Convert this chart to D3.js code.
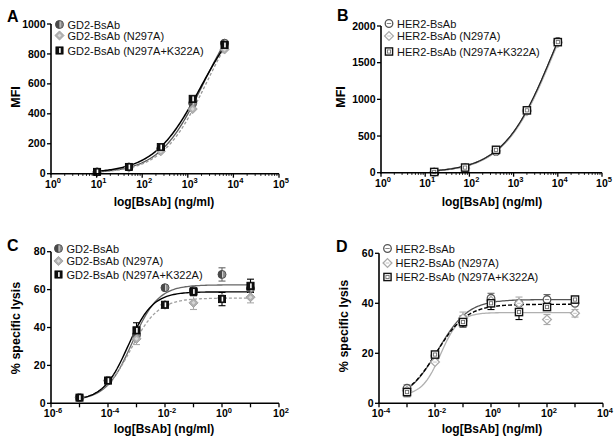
<!DOCTYPE html>
<html><head><meta charset="utf-8">
<script src="https://cdn.jsdelivr.net/npm/d3@7"></script>
<style>body{margin:0;background:#fff}svg{display:block;font-family:"Liberation Sans",Arial,sans-serif}</style>
</head><body>
<svg id="c" width="615" height="445"></svg>
<script>
// ---------- DATA ----------
const seriesGD2 = ["GD2-BsAb", "GD2-BsAb (N297A)", "GD2-BsAb (N297A+K322A)"];
const seriesHER2 = ["HER2-BsAb", "HER2-BsAb (N297A)", "HER2-BsAb (N297A+K322A)"];

// Panel A: binding MFI
const concA = [10.24, 51.2, 256, 1280, 6400];
const mfiA_GD2 = [12, 45, 168, 470, 872];
const mfiA_N297A = [10, 40, 150, 432, 830];
const mfiA_K322A = [12, 45, 178, 500, 860];
const fitA_GD2 = [3, 1200, 3.34, 0.9];     // bottom, top, logEC50, hill
const fitA_N297A = [3, 1200, 3.40, 0.9];
const fitA_K322A = [3, 1150, 3.28, 0.85];

// Panel B: binding MFI
const concB = [16, 80, 400, 2000, 10000];
const mfiB_HER2 = [8, 66, 288, 848, 1790];
const mfiB_N297A = [6, 62, 298, 840, 1770];
const mfiB_K322A = [10, 70, 312, 850, 1780];
const fitB_HER2 = [0, 3200, 3.874, 0.78];
const fitB_N297A = [0, 3200, 3.885, 0.78];
const fitB_K322A = [0, 3200, 3.868, 0.78];

// Panel C: % specific lysis
const concC = [1e-5, 1e-4, 1e-3, 1e-2, 1e-1, 1, 10];
const lysisC_GD2 = [3, 12, 36, 61, 59.5, 68, 60.5];
const lysisC_N297A = [3, 12, 34, 52, 53, 55.5, 56];
const lysisC_K322A = [3, 12, 38.5, 52, 59, 55, 62];
const errC_GD2 = [0.5, 1, 2, 1, 1, 3.5, 2];
const errC_N297A = [0.5, 1, 3, 1, 3.5, 1.5, 3];
const errC_K322A = [0.5, 1, 4, 1, 2, 3.5, 3.5];
const fitC_GD2 = [1.5, 62.5, -3.15, 0.95];
const fitC_N297A = [1.5, 55.5, -3.2, 0.9];
const fitC_K322A = [1.5, 58.8, -3.3, 1.0];

// Panel D: % specific lysis
const concD = [1e-3, 1e-2, 1e-1, 1, 10, 100, 1000];
const lysisD_HER2 = [6, 19, 33, 42, 40, 41.5, 40];
const lysisD_N297A = [5, 16.5, 34, 41, 40, 33.5, 36];
const lysisD_K322A = [4.5, 19.5, 32.5, 40, 36.5, 38.5, 41.5];
const errD_HER2 = [1, 1, 2, 2, 1, 2, 1];
const errD_N297A = [2.5, 1, 2.5, 2, 2.5, 2, 1.5];
const errD_K322A = [1.5, 1, 2, 2.5, 3, 1, 1];
const fitD_HER2 = [1, 41.5, -1.9, 0.8];
const fitD_N297A = [3, 36.3, -1.8, 1.3];
const fitD_K322A = [1, 39.6, -1.95, 0.8];

const yTicksA = [0, 200, 400, 600, 800, 1000];
const yTicksB = [0, 500, 1000, 1500, 2000];
const yTicksC = [0, 20, 40, 60, 80];
const yTicksD = [0, 20, 40, 60];
const xExpAB = [0, 1, 2, 3, 4, 5];
const xExpC = [-6, -4, -2, 0, 2];
const xExpD = [-4, -2, 0, 2, 4];

// ---------- DRAW ----------
const svg = d3.select("#c");
svg.append("rect").attr("width", 615).attr("height", 445).attr("fill", "#fff");

function marker(g, type, x, y) {
  const m = g.append("g").attr("transform", `translate(${x},${y})`);
  if (type === "circHalf") {
    m.append("circle").attr("r", 4).attr("fill", "#8a8a8a").attr("stroke", "#555").attr("stroke-width", 1);
    m.append("path").attr("d", "M0,-4 A4,4 0 0 0 0,4 Z").attr("fill", "#4a4a4a");
    m.append("line").attr("x1", 0.6).attr("x2", 0.6).attr("y1", -3).attr("y2", 3).attr("stroke", "#ddd").attr("stroke-width", 0.9);
  } else if (type === "diamFill") {
    m.append("path").attr("d", "M0,-4.6L4.6,0L0,4.6L-4.6,0Z").attr("fill", "#b0b0b0").attr("stroke", "#999").attr("stroke-width", 0.8);
    m.append("path").attr("d", "M0,-2L2,0L0,2L-2,0Z").attr("fill", "#d8d8d8");
  } else if (type === "sqHalf") {
    m.append("rect").attr("x", -3.6).attr("y", -3.6).attr("width", 7.2).attr("height", 7.2).attr("fill", "#111").attr("stroke", "#000").attr("stroke-width", 0.8);
    m.append("rect").attr("x", -0.4).attr("y", -2.4).attr("width", 1.6).attr("height", 4.8).attr("fill", "#fff");
  } else if (type === "circOpen") {
    m.append("circle").attr("r", 3.8).attr("fill", "#fff").attr("stroke", "#555").attr("stroke-width", 1.3);
    m.append("line").attr("x1", -2.2).attr("x2", 2.2).attr("stroke", "#777").attr("stroke-width", 0.9);
  } else if (type === "diamOpen") {
    m.append("path").attr("d", "M0,-4.4L4.4,0L0,4.4L-4.4,0Z").attr("fill", "#fff").attr("stroke", "#aaa").attr("stroke-width", 1.3);
    m.append("line").attr("x1", -1.8).attr("x2", 1.8).attr("stroke", "#bbb").attr("stroke-width", 0.9);
  } else if (type === "sqOpen") {
    m.append("rect").attr("x", -3.6).attr("y", -3.6).attr("width", 7.2).attr("height", 7.2).attr("fill", "#fff").attr("stroke", "#111").attr("stroke-width", 1.4);
    m.append("rect").attr("x", -1.6).attr("y", -1.6).attr("width", 3.2).attr("height", 3.2).attr("fill", "none").attr("stroke", "#666").attr("stroke-width", 0.8);
  }
}

function logistic(p, lx) {
  const [b, t, L, h] = p;
  return b + (t - b) / (1 + Math.pow(10, (L - lx) * h));
}

function panel(cfg) {
  const g = svg.append("g");
  const x = d3.scaleLog().domain(cfg.xDom).range(cfg.xRange);
  const y = d3.scaleLinear().domain(cfg.yDom).range(cfg.yRange);
  const [x0, x1] = cfg.xRange, [yb, yt] = cfg.yRange;

  // panel letter
  g.append("text").attr("x", cfg.letter[1]).attr("y", cfg.letter[2]).attr("font-size", 16).attr("font-weight", "bold").text(cfg.letter[0]);

  // curves
  const line = d3.line().x(d => x(Math.pow(10, d[0]))).y(d => y(d[1]));
  cfg.series.forEach(s => {
    const lo = Math.log10(s.conc[0]), hi = Math.log10(s.conc[s.conc.length - 1]);
    const pts = d3.range(0, 101).map(i => { const lx = lo + (hi - lo) * i / 100; return [lx, logistic(s.fit, lx)]; });
    g.append("path").attr("d", line(pts)).attr("fill", "none").attr("stroke", s.color).attr("stroke-width", s.lw || 1.3)
      .attr("stroke-dasharray", s.dash || null);
  });
  // error bars
  cfg.series.forEach(s => {
    if (!s.err) return;
    s.conc.forEach((c, i) => {
      const e = s.err[i]; if (!e || e < 1.2) return;
      const px = x(c);
      g.append("line").attr("x1", px).attr("x2", px).attr("y1", y(s.vals[i] - e)).attr("y2", y(s.vals[i] + e)).attr("stroke", s.ecolor).attr("stroke-width", 1.1);
      [s.vals[i] - e, s.vals[i] + e].forEach(v => g.append("line").attr("x1", px - 3.5).attr("x2", px + 3.5).attr("y1", y(v)).attr("y2", y(v)).attr("stroke", s.ecolor).attr("stroke-width", 1.1));
    });
  });
  // markers
  cfg.series.forEach(s => s.conc.forEach((c, i) => marker(g, s.marker, x(c), y(s.vals[i]))));

  // axes
  const ax = g.append("g").attr("stroke", "#000");
  ax.append("line").attr("x1", x0).attr("x2", x0).attr("y1", yb + 0.7).attr("y2", yt).attr("stroke-width", 1.6);
  ax.append("line").attr("x1", x0 - 0.8).attr("x2", x1).attr("y1", yb).attr("y2", yb).attr("stroke-width", 1.6);
  cfg.yTicks.forEach(v => {
    ax.append("line").attr("x1", x0 - 4).attr("x2", x0).attr("y1", y(v)).attr("y2", y(v)).attr("stroke-width", 1.3);
    g.append("text").attr("x", x0 - 5.5).attr("y", y(v) + 3.6).attr("text-anchor", "end").attr("font-size", 10.5).attr("font-weight", "bold").text(v);
  });
  const [e0, e1] = [Math.round(Math.log10(cfg.xDom[0])), Math.round(Math.log10(cfg.xDom[1]))];
  for (let e = e0; e <= e1; e++) {
    const px = x(Math.pow(10, e));
    ax.append("line").attr("x1", px).attr("x2", px).attr("y1", yb).attr("y2", yb + 4).attr("stroke-width", 1.3);
    if (cfg.minor && e < e1) {
      for (let k = 2; k <= 9; k++) {
        const mx = x(k * Math.pow(10, e));
        ax.append("line").attr("x1", mx).attr("x2", mx).attr("y1", yb).attr("y2", yb + 2.2).attr("stroke-width", 0.9);
      }
    }
  }
  cfg.xLabels.forEach(e => {
    const px = x(Math.pow(10, e));
    const t = g.append("text").attr("x", px + 2).attr("y", yb + 14).attr("text-anchor", "middle").attr("font-size", 10.5).attr("font-weight", "bold");
    t.append("tspan").text("10");
    t.append("tspan").attr("dy", -4.5).attr("font-size", 7.5).text(e);
  });
  // titles
  g.append("text").attr("x", cfg.xTitle[0]).attr("y", cfg.xTitle[1]).attr("text-anchor", "middle").attr("font-size", 12).attr("font-weight", "bold").text("log[BsAb] (ng/ml)");
  g.append("text").attr("transform", `translate(${cfg.yTitle[0]},${cfg.yTitle[1]}) rotate(-90)`).attr("text-anchor", "middle").attr("font-size", 12.5).attr("font-weight", "bold").text(cfg.yTitle[2]);

  // legend
  cfg.series.forEach((s, i) => {
    marker(g, s.marker, cfg.legend.x, cfg.legend.ys[i]);
    g.append("text").attr("x", cfg.legend.x + 8).attr("y", cfg.legend.ys[i] + 4).attr("font-size", 11).attr("fill", "#111").text(s.name);
  });
}

panel({
  letter: ["A", 7, 22], xDom: [1, 1e5], xRange: [51, 279], yDom: [0, 1000], yRange: [173.7, 24],
  yTicks: yTicksA, xLabels: xExpAB, minor: true, xTitle: [164, 206], yTitle: [20, 97, "MFI"],
  legend: { x: 59.5, ys: [24.5, 35.5, 50.5] },
  series: [
    { name: seriesGD2[0], conc: concA, vals: mfiA_GD2, fit: fitA_GD2, color: "#555", marker: "circHalf" },
    { name: seriesGD2[1], conc: concA, vals: mfiA_N297A, fit: fitA_N297A, color: "#9a9a9a", dash: "3,2", marker: "diamFill" },
    { name: seriesGD2[2], conc: concA, vals: mfiA_K322A, fit: fitA_K322A, color: "#000", lw: 1.5, marker: "sqHalf" }
  ]
});
panel({
  letter: ["B", 337, 21], xDom: [1, 1e5], xRange: [381, 602], yDom: [0, 2000], yRange: [172.7, 26],
  yTicks: yTicksB, xLabels: xExpAB, minor: true, xTitle: [492, 206], yTitle: [345, 97, "MFI"],
  legend: { x: 389, ys: [23.5, 36, 51.5] },
  series: [
    { name: seriesHER2[0], conc: concB, vals: mfiB_HER2, fit: fitB_HER2, color: "#555", lw: 1.6, marker: "circOpen" },
    { name: seriesHER2[1], conc: concB, vals: mfiB_N297A, fit: fitB_N297A, color: "#bbb", lw: 1.6, marker: "diamOpen" },
    { name: seriesHER2[2], conc: concB, vals: mfiB_K322A, fit: fitB_K322A, color: "#222", lw: 1.2, marker: "sqOpen" }
  ]
});
panel({
  letter: ["C", 7, 251], xDom: [1e-6, 1e2], xRange: [51, 279], yDom: [0, 80], yRange: [403.3, 251.7],
  yTicks: yTicksC, xLabels: xExpC, minor: false, xTitle: [164, 433], yTitle: [20, 328, "% specific lysis"],
  legend: { x: 58.5, ys: [248.5, 261, 274.5] },
  series: [
    { name: seriesGD2[0], conc: concC, vals: lysisC_GD2, err: errC_GD2, fit: fitC_GD2, color: "#666", ecolor: "#666", marker: "circHalf" },
    { name: seriesGD2[1], conc: concC, vals: lysisC_N297A, err: errC_N297A, fit: fitC_N297A, color: "#a0a0a0", ecolor: "#aaa", dash: "3,2", marker: "diamFill" },
    { name: seriesGD2[2], conc: concC, vals: lysisC_K322A, err: errC_K322A, fit: fitC_K322A, color: "#000", ecolor: "#000", lw: 1.4, marker: "sqHalf" }
  ]
});
panel({
  letter: ["D", 336, 252], xDom: [1e-4, 1e4], xRange: [379, 603], yDom: [0, 60], yRange: [403.3, 253.3],
  yTicks: yTicksD, xLabels: xExpD, minor: false, xTitle: [492, 433], yTitle: [348, 326, "% specific lysis"],
  legend: { x: 387.5, ys: [248.5, 263, 277] },
  series: [
    { name: seriesHER2[0], conc: concD, vals: lysisD_HER2, err: errD_HER2, fit: fitD_HER2, color: "#555", ecolor: "#666", marker: "circOpen" },
    { name: seriesHER2[1], conc: concD, vals: lysisD_N297A, err: errD_N297A, fit: fitD_N297A, color: "#b0b0b0", ecolor: "#aaa", marker: "diamOpen" },
    { name: seriesHER2[2], conc: concD, vals: lysisD_K322A, err: errD_K322A, fit: fitD_K322A, color: "#000", ecolor: "#000", dash: "4,2", lw: 1.4, marker: "sqOpen" }
  ]
});
</script>
</body></html>
